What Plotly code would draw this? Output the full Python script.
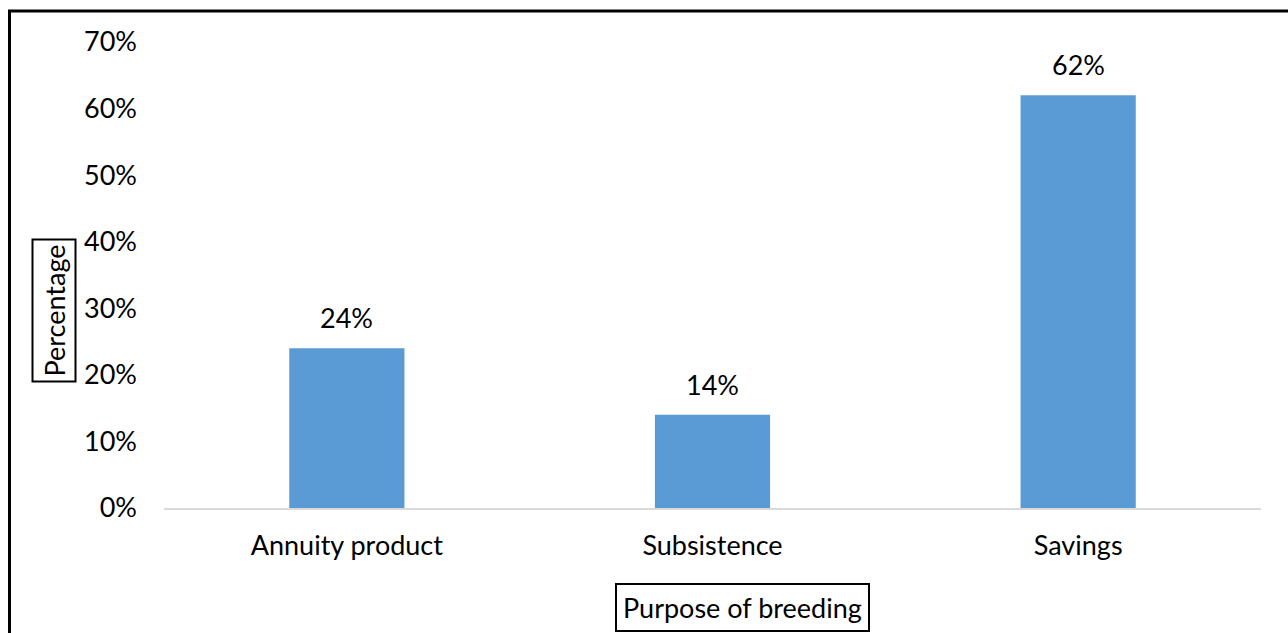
import plotly.graph_objects as go

# Purpose of breeding survey results (percent of respondents)
categories = ["Annuity product", "Subsistence", "Savings"]
percentages = [24, 14, 62]
y_ticks = [0, 10, 20, 30, 40, 50, 60, 70]
y_tick_labels = [f"{v}%" for v in y_ticks]

FONT = "Lato"
FS = 27
BAR_COLOR = "#5B9BD5"

W, H = 1288, 633
ML, MR, MT, MB = 164, 27, 42, 125
PW, PH = W - ML - MR, H - MT - MB


def px_to_paper_x(px):
    return (px - ML) / PW


def px_to_paper_y(py):
    return (H - MB - py) / PH


fig = go.Figure()
fig.add_trace(go.Bar(
    x=categories,
    y=percentages,
    marker=dict(color=BAR_COLOR, line=dict(width=0)),
    width=0.315,
    hoverinfo="skip",
))

# Value labels above each bar
for cat, val in zip(categories, percentages):
    fig.add_annotation(
        x=cat, y=val, xref="x", yref="y",
        text=f"{val}%", showarrow=False,
        xanchor="center", yanchor="bottom", yshift=12,
        font=dict(family=FONT, size=FS, color="#000000"),
    )

# Boxed axis titles
fig.add_annotation(
    x=px_to_paper_x(53.5), y=px_to_paper_y(311), xref="paper", yref="paper",
    xanchor="center", yanchor="middle",
    text="Percentage", textangle=-90, showarrow=False,
    font=dict(family=FONT, size=FS, color="#000000"),
    bordercolor="#000000", borderwidth=2, borderpad=4,
    bgcolor="#FFFFFF",
)
fig.add_annotation(
    x=px_to_paper_x(742), y=px_to_paper_y(607), xref="paper", yref="paper",
    xanchor="center", yanchor="middle",
    text="Purpose of breeding", showarrow=False,
    font=dict(family=FONT, size=FS, color="#000000"),
    bordercolor="#000000", borderwidth=2, borderpad=6,
    bgcolor="#FFFFFF",
)

# Outer frame around the chart
fig.add_shape(
    type="rect", xref="paper", yref="paper",
    x0=px_to_paper_x(9.5), x1=px_to_paper_x(1300),
    y0=px_to_paper_y(650), y1=px_to_paper_y(11),
    line=dict(color="#000000", width=3), fillcolor="rgba(0,0,0,0)",
    layer="below",
)

fig.update_layout(
    width=W, height=H,
    margin=dict(l=ML, r=MR, t=MT, b=MB, pad=0),
    paper_bgcolor="#FFFFFF", plot_bgcolor="#FFFFFF",
    showlegend=False,
    font=dict(family=FONT, size=FS, color="#000000"),
)
fig.update_xaxes(
    showgrid=False, zeroline=False,
    showline=True, linecolor="#D9D9D9", linewidth=2,
    ticks="", tickfont=dict(family=FONT, size=FS, color="#000000"),
    ticklabelstandoff=13,
)
fig.update_yaxes(
    range=[0, 70], showgrid=False, zeroline=False, showline=False,
    tickmode="array", tickvals=y_ticks, ticktext=y_tick_labels,
    ticks="", tickfont=dict(family=FONT, size=FS, color="#000000"),
    ticklabelstandoff=26,
)

fig.write_html("out.html")
